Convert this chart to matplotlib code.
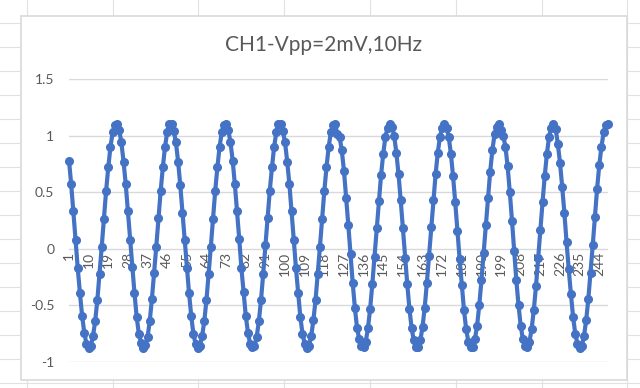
import matplotlib
matplotlib.use("Agg")
import matplotlib.pyplot as plt
from matplotlib.lines import Line2D
from matplotlib.patches import Rectangle
import numpy as np

# CH1 samples, one row per period (25 samples)
ch1 = [
    0.78, 0.57, 0.33, 0.08, -0.17, -0.39, -0.59, -0.74, -0.84, -0.88, -0.86, -0.77, -0.64,
    -0.45, -0.22, 0.02, 0.26, 0.51, 0.72, 0.90, 1.03, 1.09, 1.10, 1.05, 0.94,
    0.77, 0.57, 0.33, 0.08, -0.16, -0.39, -0.60, -0.75, -0.83, -0.88, -0.85, -0.78, -0.64,
    -0.44, -0.21, 0.02, 0.27, 0.51, 0.72, 0.90, 1.03, 1.10, 1.10, 1.04, 0.94,
    0.77, 0.56, 0.32, 0.08, -0.17, -0.39, -0.59, -0.75, -0.84, -0.88, -0.86, -0.77, -0.64,
    -0.45, -0.22, 0.02, 0.26, 0.51, 0.72, 0.90, 1.03, 1.09, 1.10, 1.05, 0.94,
    0.78, 0.57, 0.33, 0.09, -0.17, -0.38, -0.59, -0.74, -0.84, -0.87, -0.86, -0.78, -0.64,
    -0.45, -0.22, 0.03, 0.27, 0.51, 0.72, 0.90, 1.03, 1.10, 1.10, 1.04, 0.94,
    0.77, 0.57, 0.33, 0.08, -0.17, -0.39, -0.60, -0.75, -0.84, -0.88, -0.86, -0.77, -0.63,
    -0.45, -0.22, 0.02, 0.26, 0.51, 0.72, 0.90, 1.03, 1.09, 1.10, 1.01, 0.99,
    0.87, 0.69, 0.45, 0.21, -0.05, -0.30, -0.52, -0.70, -0.80, -0.86, -0.87, -0.82, -0.70,
    -0.53, -0.31, -0.07, 0.18, 0.42, 0.65, 0.84, 0.99, 1.07, 1.10, 1.08, 1.00,
    0.85, 0.66, 0.43, 0.18, -0.08, -0.31, -0.53, -0.70, -0.81, -0.87, -0.87, -0.81, -0.69,
    -0.52, -0.30, -0.06, 0.19, 0.43, 0.66, 0.85, 0.99, 1.07, 1.10, 1.07, 0.99,
    0.84, 0.64, 0.41, 0.16, -0.09, -0.32, -0.54, -0.71, -0.82, -0.87, -0.87, -0.80, -0.68,
    -0.50, -0.28, -0.04, 0.21, 0.45, 0.68, 0.87, 1.01, 1.08, 1.10, 1.05, 1.00,
    0.90, 0.73, 0.50, 0.25, -0.02, -0.28, -0.50, -0.68, -0.80, -0.86, -0.87, -0.82, -0.71,
    -0.54, -0.33, -0.08, 0.17, 0.41, 0.64, 0.84, 0.99, 1.07, 1.10, 1.06, 0.93,
    0.76, 0.55, 0.32, 0.06, -0.18, -0.40, -0.60, -0.75, -0.84, -0.88, -0.86, -0.77, -0.63,
    -0.44, -0.21, 0.03, 0.28, 0.53, 0.74, 0.90, 1.03, 1.09, 1.10,
]
samples = np.arange(1, len(ch1) + 1)
tick_pos = list(range(1, len(ch1) + 1, 9))
tick_labels = [str(t) for t in tick_pos]
y_ticks = [-1, -0.5, 0, 0.5, 1, 1.5]
y_labels = ["-1", "-0.5", "0", "0.5", "1", "1.5"]

W, H = 640, 388
fig = plt.figure(figsize=(6.4, 3.88), dpi=100)
plt.rcParams['font.family'] = ['Lato', 'DejaVu Sans']

# spreadsheet cell grid behind the chart
for x in np.arange(26.7, 640, 85.8):
    fig.add_artist(Line2D([x / W, x / W], [0, 1], transform=fig.transFigure,
                          color='#e1e1e1', lw=0.8, zorder=0))
for y in np.arange(-1.3, 390, 24):
    fig.add_artist(Line2D([0, 1], [1 - y / H, 1 - y / H], transform=fig.transFigure,
                          color='#e1e1e1', lw=0.8, zorder=0))
fig.add_artist(Rectangle((20.7 / W, 1 - 380 / H), (627 - 20.7) / W, (380 - 16) / H,
                         transform=fig.transFigure, facecolor='white',
                         edgecolor='#d9d9d9', lw=1.2, zorder=1))

ax = fig.add_axes([69 / W, 1 - 362 / H, (608 - 69) / W, (362 - 79) / H])
ax.set_zorder(2)
ax.patch.set_visible(False)
for s in ax.spines.values():
    s.set_visible(False)
ax.spines['bottom'].set_position(('data', 0))

ax.plot(samples, ch1, color='#4472C4', lw=3, marker='o', markersize=5.5,
        solid_joinstyle='round', clip_on=False, zorder=3)

ax.set_xlim(1, len(ch1))
ax.set_ylim(-1, 1.5)
ax.set_yticks(y_ticks)
ax.set_yticklabels(y_labels)
ax.set_xticks(tick_pos)
ax.set_xticklabels(tick_labels)
ax.yaxis.grid(True, color='#d9d9d9', lw=1.0)
ax.set_axisbelow(True)
ax.tick_params(axis='y', length=0, pad=10.5, labelsize=10, labelcolor='#595959')
ax.tick_params(axis='x', length=0, pad=2, labelsize=10, labelcolor='#595959',
               labelrotation=90)

fig.text(323 / W, 1 - 45 / H, 'CH1-Vpp=2mV,10Hz', ha='center', va='center',
         fontsize=15, color='#595959')

fig.savefig('out.png', dpi=100)
